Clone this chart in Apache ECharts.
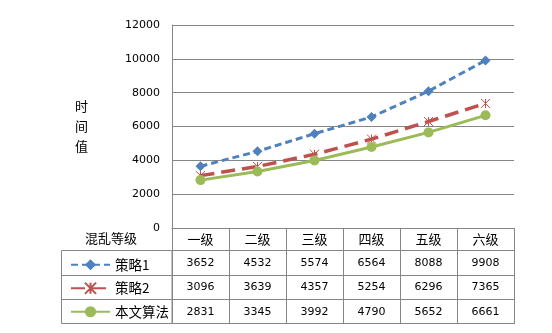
<!DOCTYPE html>
<html>
<head>
<meta charset="utf-8">
<script src="https://cdn.jsdelivr.net/npm/echarts@6/dist/echarts.min.js"></script>
<style>
  html, body { margin: 0; padding: 0; background: #fff; }
  #chart { width: 552px; height: 333px; }
</style>
</head>
<body>
<div id="chart"></div>
<script>
const levels = ['一级', '二级', '三级', '四级', '五级', '六级'];
const strategy1 = [3652, 4532, 5574, 6564, 8088, 9908];
const strategy2 = [3096, 3639, 4357, 5254, 6296, 7365];
const ours = [2831, 3345, 3992, 4790, 5652, 6661];
const seriesNames = ['策略1', '策略2', '本文算法'];

const gray = '#868686';
const cjk = '"Noto Sans CJK SC", sans-serif';
const num = '"DejaVu Sans", sans-serif';

var myChart = echarts.init(document.getElementById('chart'));

// extra bottom axes draw the data-table rows
function rowAxis(values, offset, height) {
  return {
    type: 'category',
    data: values.map(String),
    position: 'bottom',
    offset: offset,
    axisLine: { show: true, lineStyle: { color: gray, width: 1 } },
    axisTick: { show: true, length: height, lineStyle: { color: gray } },
    axisLabel: { margin: Math.round(height / 2 - 5), fontFamily: num, fontSize: 11, color: '#000' },
    splitLine: { show: false }
  };
}

var option = {
  animation: false,
  backgroundColor: '#fff',
  grid: { left: 172, right: 38, top: 25, bottom: 105 },
  legend: {
    orient: 'vertical',
    left: 65,
    top: 253,
    itemWidth: 39,
    itemHeight: 14,
    itemGap: 10,
    textStyle: { fontFamily: cjk, fontSize: 13.5, color: '#000' },
    data: seriesNames
  },
  xAxis: [
    {
      type: 'category',
      data: levels,
      boundaryGap: true,
      axisLine: { show: true, lineStyle: { color: gray } },
      axisTick: { show: true, length: 22, lineStyle: { color: gray } },
      axisLabel: { margin: 5, fontFamily: cjk, fontSize: 13, color: '#000' }
    },
    rowAxis(strategy1, 22, 25),
    rowAxis(strategy2, 47, 24),
    rowAxis(ours, 71, 25)
  ],
  yAxis: {
    type: 'value',
    min: 0,
    max: 12000,
    interval: 2000,
    name: '时\n间\n值',
    nameLocation: 'middle',
    nameRotate: 0,
    nameGap: 84,
    nameTextStyle: { fontFamily: cjk, fontSize: 13, color: '#000', lineHeight: 20 },
    axisLine: { show: true, lineStyle: { color: gray } },
    axisTick: { show: false },
    axisLabel: { fontFamily: num, fontSize: 11, color: '#000', margin: 12, formatter: function (v) { return String(v); } },
    splitLine: { lineStyle: { color: gray } }
  },
  series: [
    {
      name: seriesNames[0],
      type: 'line',
      data: strategy1,
      symbol: 'diamond',
      symbolSize: 10,
      lineStyle: { color: '#4f81bd', width: 3, type: [7, 4] },
      itemStyle: { color: '#4f81bd' }
    },
    {
      name: seriesNames[1],
      type: 'line',
      data: strategy2,
      symbol: 'path://M0,0L10,10M10,0L0,10M5,0L5,10',
      symbolSize: 9,
      lineStyle: { color: '#c0504d', width: 3.5, type: [14, 7] },
      itemStyle: { color: 'rgba(0,0,0,0)', borderColor: '#c0504d', borderWidth: 1 }
    },
    {
      name: seriesNames[2],
      type: 'line',
      data: ours,
      symbol: 'circle',
      symbolSize: 10,
      lineStyle: { color: '#9bbb59', width: 3 },
      itemStyle: { color: '#9bbb59' }
    }
  ],
  graphic: [
    {
      type: 'text',
      left: 85,
      top: 232,
      style: { text: '混乱等级', font: '13px ' + cjk, fill: '#000' }
    },
    {
      type: 'rect',
      shape: { x: 61.5, y: 250.5, width: 110.5, height: 73 },
      style: { fill: 'none', stroke: gray, lineWidth: 1 }
    },
    { type: 'line', shape: { x1: 61.5, y1: 275.5, x2: 172, y2: 275.5 }, style: { stroke: gray } },
    { type: 'line', shape: { x1: 61.5, y1: 299.5, x2: 172, y2: 299.5 }, style: { stroke: gray } },
    { type: 'line', shape: { x1: 172, y1: 323.5, x2: 514, y2: 323.5 }, style: { stroke: gray } }
  ]
};

myChart.setOption(option);
</script>
</body>
</html>
